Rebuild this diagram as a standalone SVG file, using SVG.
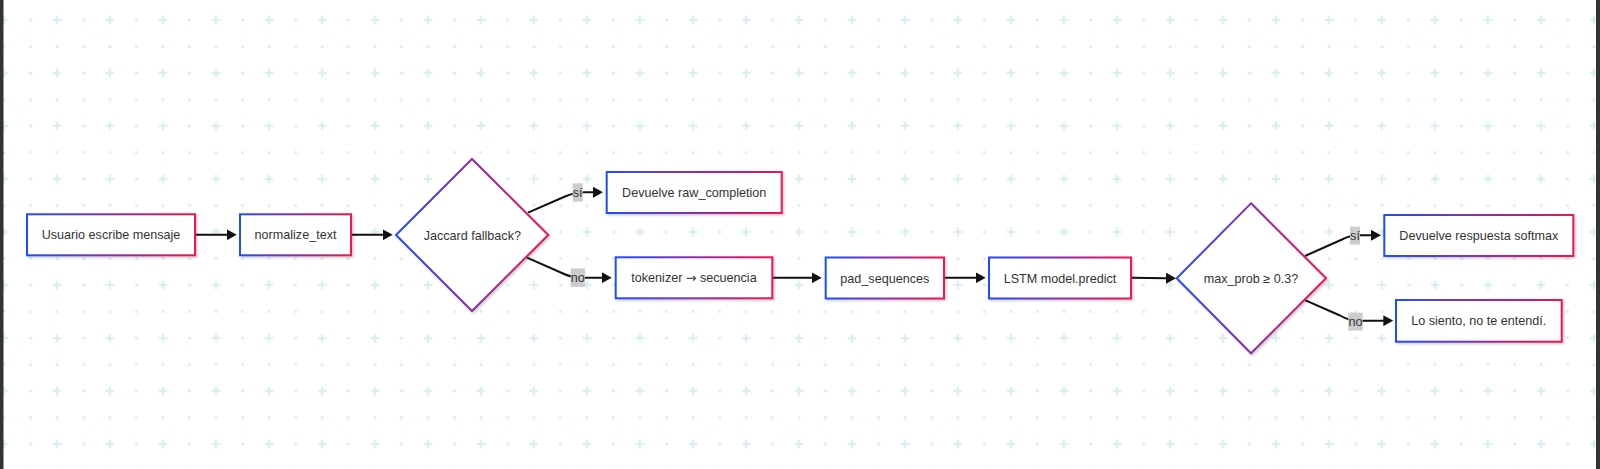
<svg xmlns="http://www.w3.org/2000/svg" width="1600" height="469" viewBox="0 0 1600 469">
  <style>
    .node { fill: #ffffff; stroke: url(#nodeGrad); stroke-width: 2; filter: url(#shadow); }
    .label { font-family: "Liberation Sans", Arial, "DejaVu Sans", sans-serif; font-size: 12.6px; fill: #333333; text-anchor: middle; }
    .sym { font-family: "DejaVu Sans", sans-serif; }
    .edge { fill: none; stroke: #111111; stroke-width: 2; marker-end: url(#arrow); }
    .elbg { fill: #cccccc; }
    .grid { fill: #d5edf1; }
    .gridp { stroke: #d5edf1; stroke-width: 2; }
  </style>
  <defs>
    <linearGradient id="nodeGrad" x1="0" y1="0" x2="1" y2="0">
      <stop offset="0" stop-color="#1f4dff"/>
      <stop offset="0.5" stop-color="#8a2fa8"/>
      <stop offset="1" stop-color="#f2124d"/>
    </linearGradient>
    <filter id="shadow" x="-10%" y="-10%" width="130%" height="140%">
      <feDropShadow dx="1.5" dy="1.5" stdDeviation="1" flood-color="#000000" flood-opacity="0.2"/>
    </filter>
    <marker id="arrow" viewBox="0 0 10 11" refX="1" refY="5.5" markerWidth="10" markerHeight="11" markerUnits="userSpaceOnUse" orient="auto">
      <path d="M0,0 L10,5.5 L0,11 z" fill="#111111"/>
    </marker>
    <pattern id="gridPat" patternUnits="userSpaceOnUse" x="-9.25" y="6.75" width="53" height="53">
      <path class="gridp" d="M8.75,13.25 H17.75 M13.25,8.75 V17.75"/>
      <circle class="grid" cx="39.75" cy="13.25" r="1.6"/>
      <circle class="grid" cx="13.25" cy="39.75" r="1.6"/>
      <circle class="grid" cx="39.75" cy="39.75" r="1.6"/>
    </pattern>
  </defs>

  <g id="background">
    <rect x="0" y="0" width="1600" height="469" fill="#ffffff"/>
    <rect x="0" y="0" width="1600" height="469" fill="url(#gridPat)"/>
    <rect x="0" y="0" width="3.5" height="469" fill="#333333"/>
    <rect x="1596" y="0" width="4" height="469" fill="#333333"/>
  </g>

  <g id="connectors">
    <path class="edge" d="M195,234.8 L227.7,234.8"/>
    <path class="edge" d="M351,234.8 L383.7,234.8"/>
    <path class="edge" d="M528,212.6 L565,196.5 Q575,192.3 585,192.3 L594,192.3"/>
    <path class="edge" d="M527,257.7 L563,273.5 Q572,277.7 582,277.7 L602.7,277.7"/>
    <path class="edge" d="M772.3,277.8 L812.7,277.8"/>
    <path class="edge" d="M944,277.8 L976.7,277.8"/>
    <path class="edge" d="M1131,277.8 L1167,278.2"/>
    <path class="edge" d="M1305,256 L1342,239.5 Q1350,235.3 1360,235.3 L1372,235.3"/>
    <path class="edge" d="M1303.3,299.3 L1340,315.5 Q1349,320.7 1358,320.7 L1384.3,320.7"/>
    <g id="edge-label-si-1">
      <rect class="elbg" x="572.7" y="183.3" width="10" height="18.4"/>
      <text class="label" x="577.7" y="196.9">sí</text>
    </g>
    <g id="edge-label-no-1">
      <rect class="elbg" x="570.7" y="268.4" width="14.3" height="18.4"/>
      <text class="label" x="577.8" y="282">no</text>
    </g>
    <g id="edge-label-si-2">
      <rect class="elbg" x="1350" y="226.6" width="10" height="18"/>
      <text class="label" x="1355" y="240">sí</text>
    </g>
    <g id="edge-label-no-2">
      <rect class="elbg" x="1348.3" y="312.6" width="14.4" height="18"/>
      <text class="label" x="1355.5" y="326">no</text>
    </g>
  </g>

  <g id="node-usuario">
    <rect class="node" x="27" y="214.3" width="168" height="41"/>
    <text class="label" x="111" y="239.3">Usuario escribe mensaje</text>
  </g>
  <g id="node-normalize">
    <rect class="node" x="240" y="214.3" width="111" height="41"/>
    <text class="label" x="295.5" y="239.3">normalize_text</text>
  </g>
  <g id="node-jaccard">
    <polygon class="node" points="472,159 548.3,235 472,311 396,235"/>
    <text class="label" x="472.3" y="239.5">Jaccard fallback?</text>
  </g>
  <g id="node-raw">
    <rect class="node" x="606.7" y="172" width="175" height="41"/>
    <text class="label" x="694.2" y="197">Devuelve raw_completion</text>
  </g>
  <g id="node-tokenizer">
    <rect class="node" x="615.7" y="257.3" width="156.6" height="41"/>
    <text class="label" x="694" y="282.3">tokenizer <tspan class="sym">→</tspan> secuencia</text>
  </g>
  <g id="node-pad">
    <rect class="node" x="825.7" y="257.5" width="118.3" height="41"/>
    <text class="label" x="884.8" y="282.5">pad_sequences</text>
  </g>
  <g id="node-lstm">
    <rect class="node" x="989" y="257.5" width="142" height="41"/>
    <text class="label" x="1060" y="282.5">LSTM model.predict</text>
  </g>
  <g id="node-maxprob">
    <polygon class="node" points="1251,203.3 1326,278.3 1251,353.3 1176.7,278.3"/>
    <text class="label" x="1251" y="282.8">max_prob ≥ 0.3?</text>
  </g>
  <g id="node-softmax">
    <rect class="node" x="1384.3" y="215" width="189" height="41"/>
    <text class="label" x="1478.8" y="239.8">Devuelve respuesta softmax</text>
  </g>
  <g id="node-losiento">
    <rect class="node" x="1396" y="300" width="165.7" height="41.7"/>
    <text class="label" x="1478.8" y="325.3">Lo siento, no te entendí.</text>
  </g>
</svg>
